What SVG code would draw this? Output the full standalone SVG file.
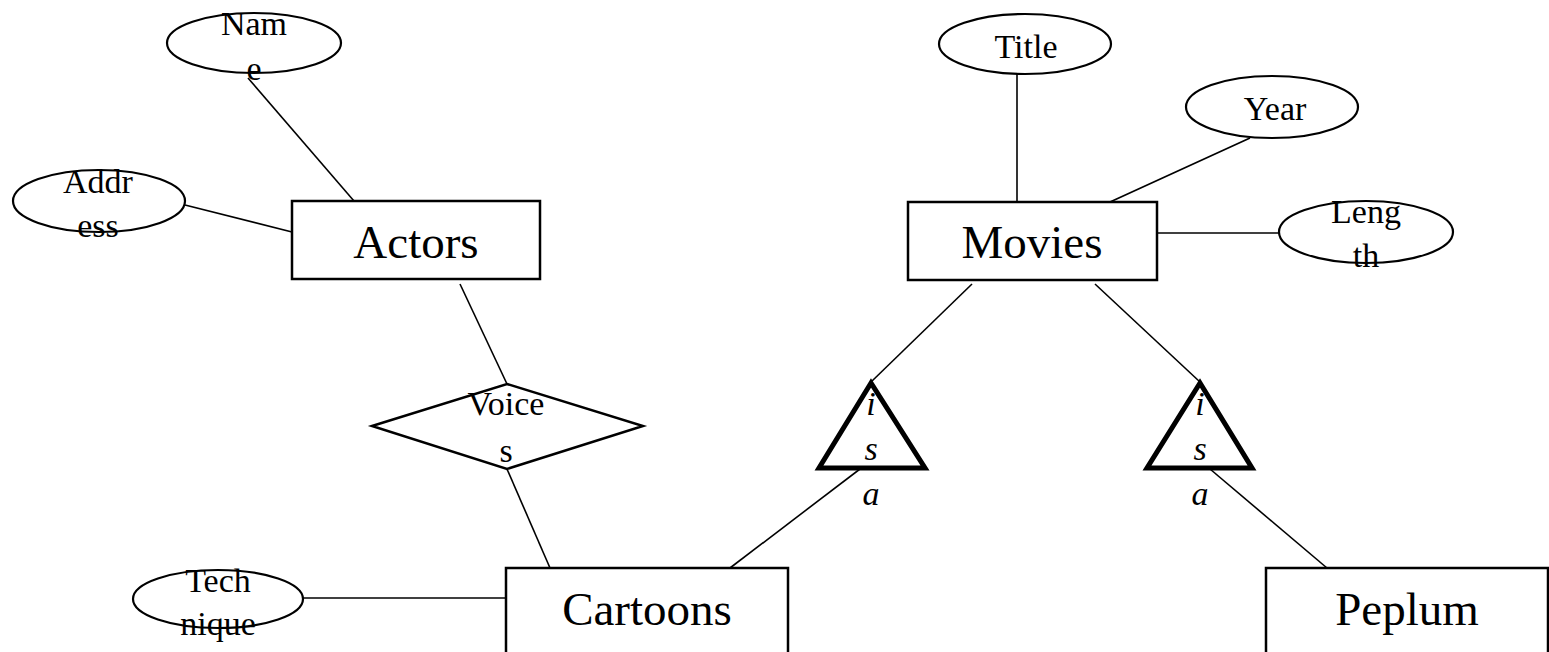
<svg xmlns="http://www.w3.org/2000/svg" width="1549" height="652" viewBox="0 0 1549 652">
<style>
.ent{fill:#fff;stroke:#000;stroke-width:2.5}
.att{fill:#fff;stroke:#000;stroke-width:2.2}
.rel{fill:#fff;stroke:#000;stroke-width:2.5}
.isa{fill:#fff;stroke:#000;stroke-width:5}
.ln{stroke:#000;stroke-width:1.6;fill:none}
.big{font-family:"Liberation Serif","Times New Roman",serif;font-size:47px;text-anchor:middle;fill:#000}
.sm{font-family:"Liberation Serif","Times New Roman",serif;font-size:34px;text-anchor:middle;fill:#000}
.it{font-style:italic}
</style>
<rect width="1549" height="652" fill="#fff"/>
<g id="connectors">
<line class="ln" x1="248" y1="78" x2="354" y2="201"/>
<line class="ln" x1="185" y1="205" x2="292" y2="232"/>
<line class="ln" x1="460" y1="284" x2="507" y2="384"/>
<line class="ln" x1="507" y1="469" x2="550" y2="568"/>
<line class="ln" x1="303" y1="598" x2="506" y2="598"/>
<line class="ln" x1="1017" y1="74" x2="1017" y2="202"/>
<line class="ln" x1="1250" y1="138" x2="1110" y2="202"/>
<line class="ln" x1="1157" y1="233" x2="1279" y2="233"/>
<line class="ln" x1="972" y1="284" x2="871" y2="382"/>
<line class="ln" x1="1095" y1="284" x2="1200" y2="382"/>
<line class="ln" x1="860" y1="469" x2="730" y2="568"/>
<line class="ln" x1="1210" y1="469" x2="1327" y2="568"/>
</g>
<g id="Actors">
<rect class="ent" x="292" y="201" width="248" height="78"/>
<text class="big" x="416" y="258">Actors</text>
</g>
<g id="Movies">
<rect class="ent" x="908" y="202" width="249" height="78"/>
<text class="big" x="1032" y="258">Movies</text>
</g>
<g id="Cartoons">
<rect class="ent" x="506" y="568" width="282" height="130"/>
<text class="big" x="647" y="625">Cartoons</text>
</g>
<g id="Peplum">
<rect class="ent" x="1266" y="568" width="282" height="130"/>
<text class="big" x="1407" y="625">Peplum</text>
</g>
<g id="Name">
<ellipse class="att" cx="254" cy="43" rx="87" ry="30"/>
<text class="sm" x="254" y="35">Nam</text>
<text class="sm" x="254" y="80">e</text>
</g>
<g id="Address">
<ellipse class="att" cx="99" cy="201" rx="86" ry="31"/>
<text class="sm" x="98" y="193">Addr</text>
<text class="sm" x="98" y="237">ess</text>
</g>
<g id="Technique">
<ellipse class="att" cx="218" cy="599" rx="85" ry="29"/>
<text class="sm" x="218" y="592">Tech</text>
<text class="sm" x="218" y="635">nique</text>
</g>
<g id="Title">
<ellipse class="att" cx="1025" cy="44" rx="86" ry="30"/>
<text class="sm" x="1026" y="58">Title</text>
</g>
<g id="Year">
<ellipse class="att" cx="1272" cy="107" rx="86" ry="31"/>
<text class="sm" x="1275" y="120">Year</text>
</g>
<g id="Length">
<ellipse class="att" cx="1366" cy="232" rx="87" ry="31"/>
<text class="sm" x="1366" y="223">Leng</text>
<text class="sm" x="1366" y="267">th</text>
</g>
<g id="Voices">
<polygon class="rel" points="372,426 507,384 643,426 507,469"/>
<text class="sm" x="506" y="415">Voice</text>
<text class="sm" x="506" y="462">s</text>
</g>
<g id="isa1">
<polygon class="isa" points="871,383 819,468 925,468"/>
<text class="sm it" x="871" y="415">i</text>
<text class="sm it" x="871" y="460">s</text>
<text class="sm it" x="871" y="505">a</text>
</g>
<g id="isa2">
<polygon class="isa" points="1200,383 1147,468 1252,468"/>
<text class="sm it" x="1200" y="415">i</text>
<text class="sm it" x="1200" y="460">s</text>
<text class="sm it" x="1200" y="505">a</text>
</g>
</svg>
